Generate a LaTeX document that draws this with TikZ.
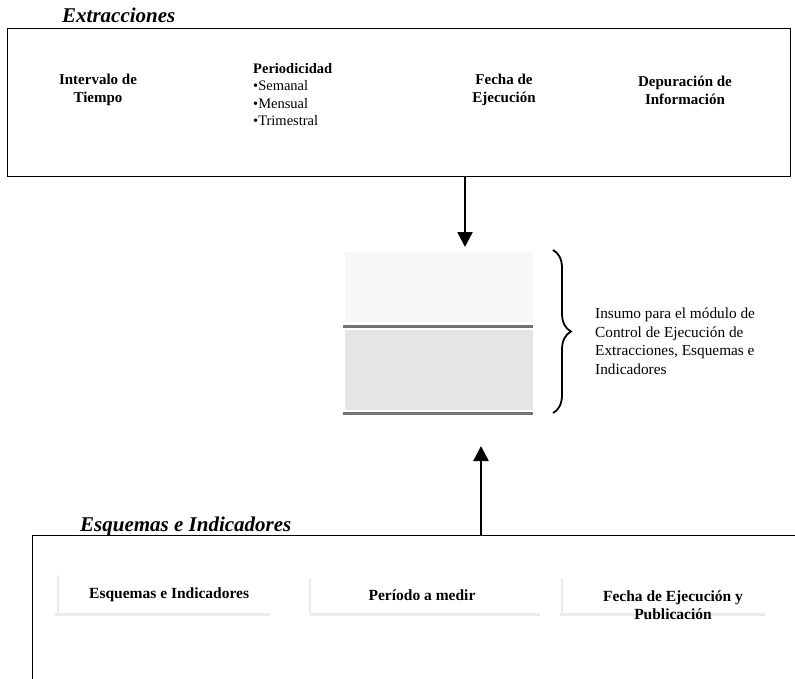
\documentclass[tikz,border=0pt]{standalone}
\usepackage{fontspec}
\setmainfont{Liberation Serif}
\usetikzlibrary{arrows.meta,decorations.pathreplacing}
\begin{document}
\begin{tikzpicture}[x=1pt,y=-1pt,
  frame/.style={draw, line width=1.3pt, inner sep=0pt, anchor=north west},
  heading/.style={anchor=base west, inner sep=0pt, font=\fontsize{21}{24}\selectfont\bfseries\itshape},
  field/.style={align=center, inner sep=0pt, font=\fontsize{15}{18}\selectfont\bfseries},
  bottomfield/.style={field, font=\fontsize{15.5}{18}\selectfont\bfseries},
  arr/.style={line width=2.4pt, -{Triangle[length=15pt,width=15pt]}},
  dbline/.style={line width=3pt, black!55},
  smudge/.style={line width=3pt, black!8},
]
\useasboundingbox (0,0) rectangle (795,678);
\clip (0,0) rectangle (795,678);
\fill[white] (0,0) rectangle (795,678);

% ---- Extracciones ----
\node[heading] (extlabel) at (62,22) {Extracciones};
\node[frame, minimum width=783pt, minimum height=148pt] (ext) at (7,28) {};
\node[field] (intervalo) at (98,90) {Intervalo de\\Tiempo};
\node[align=left, anchor=north west, inner sep=0pt,
      font=\fontsize{14.5}{17.5}\selectfont] (period) at (253,63)
  {\textbf{Periodicidad}\\\textbullet Semanal\\\textbullet Mensual\\\textbullet Trimestral};
\node[field] (fecha) at (504,90) {Fecha de\\Ejecución};
\node[field] (depura) at (685,90) {Depuración de\\Información};

% ---- repository in the middle ----
\node[minimum width=190pt, minimum height=163pt, inner sep=0pt] (db) at (438,331.5) {};
\fill[black!3] (345,252) rectangle (533,322);
\fill[black!10] (345,330) rectangle (533,410);
\draw[dbline] (343,326) -- (533,326);
\draw[dbline] (343,413) -- (533,413);

\coordinate (braceTop) at (553,250);
\coordinate (braceBot) at (553,413);
\draw[line width=1.8pt, decorate, decoration={brace, amplitude=18pt}] (braceTop) -- (braceBot);
\node[align=left, anchor=west, inner sep=0pt, font=\fontsize{15.3}{18.5}\selectfont] (insumo) at (595,341)
  {Insumo para el módulo de\\Control de Ejecución de\\Extracciones, Esquemas e\\Indicadores};

% ---- Esquemas e Indicadores ----
\node[heading] (esqlabel) at (80,531) {Esquemas e Indicadores};
\node[frame, minimum width=800pt, minimum height=200pt] (esq) at (32,535) {};
\draw[smudge] (55,614) -- (270,614);
\draw[smudge] (310,614) -- (540,614);
\draw[smudge] (560,614) -- (765,614);
\draw[smudge, line width=2pt] (58,575) -- (58,615);
\draw[smudge, line width=2pt] (310,578) -- (310,614);
\draw[smudge, line width=2pt] (562,578) -- (562,614);
\node[bottomfield, anchor=west] (esquemas) at (89,595) {Esquemas e Indicadores};
\node[bottomfield] (periodo) at (422,595) {Período a medir};
\node[bottomfield] (fechapub) at (673,605) {Fecha de Ejecución y\\Publicación};

% ---- connectors ----
\coordinate (downTip) at (465,247);
\coordinate (upTip) at (481,446);
\draw[arr] (ext.south -| downTip) -- (downTip);
\draw[arr] (esq.north -| upTip) -- (upTip);
\end{tikzpicture}
\end{document}
